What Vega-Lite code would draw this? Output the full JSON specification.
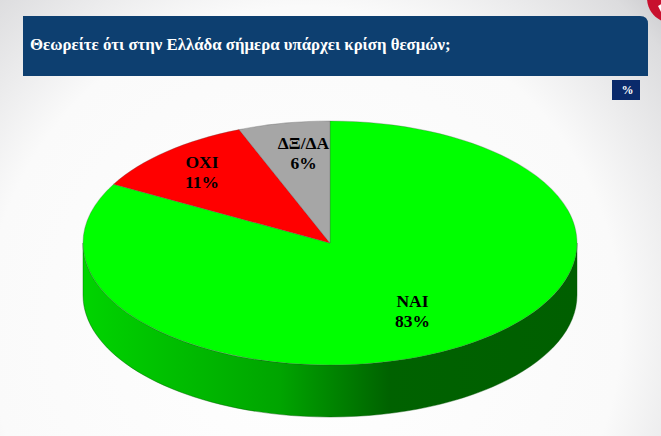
{
  "$schema": "https://vega.github.io/schema/vega-lite/v6.json",
  "width": 661,
  "height": 436,
  "padding": 0,
  "autosize": {"type": "none"},
  "background": "#ffffff",
  "view": {"stroke": null},
  "title": {
    "text": "Θεωρείτε ότι στην Ελλάδα σήμερα υπάρχει κρίση θεσμών;",
    "anchor": "start",
    "frame": "group",
    "dx": 30,
    "offset": -98,
    "zindex": 1,
    "font": "Liberation Serif",
    "fontSize": 16.8,
    "fontWeight": "bold",
    "color": "#ffffff",
    "baseline": "bottom"
  },
  "data": {
    "values": [
      {"answer": "ΝΑΙ", "pct": 83, "label": "ΝΑΙ\n83%"},
      {"answer": "ΟΧΙ", "pct": 11, "label": "ΟΧΙ\n11%"},
      {"answer": "ΔΞ/ΔΑ", "pct": 6, "label": "ΔΞ/ΔΑ\n6%"}
    ]
  },
  "layer": [
    {
      "data": {"values": [{"part": "background"}]},
      "mark": {
        "type": "rect",
        "fill": {
          "gradient": "radial",
          "x1": 0.46, "y1": 0.66, "r1": 0,
          "x2": 0.46, "y2": 0.66, "r2": 0.8,
          "stops": [
            {"offset": 0, "color": "#ffffff"},
            {"offset": 0.6, "color": "#fafafa"},
            {"offset": 0.85, "color": "#dcdcde"},
            {"offset": 1, "color": "#b4b4b8"}
          ]
        }
      },
      "encoding": {}
    },
    {
      "data": {"values": [{"part": "corner"}]},
      "mark": {"type": "point", "filled": true, "opacity": 1, "size": 4, "fill": "#c8102e", "strokeWidth": 0,
        "shape": "M316.5,-220 A25,25 0 1 0 366.5,-220 A25,25 0 1 0 316.5,-220 Z"},
      "encoding": {}
    },
    {
      "data": {"values": [{"part": "corner arrow"}]},
      "mark": {"type": "point", "filled": true, "opacity": 1, "size": 4, "fill": "#ffffff", "strokeWidth": 0,
        "shape": "M327.5,-212 L331,-214 L331,-205 Z"},
      "encoding": {}
    },
    {
      "data": {"values": [{"part": "header"}]},
      "mark": {"type": "point", "filled": true, "opacity": 1, "size": 4, "fill": "#0d3f70", "strokeWidth": 0,
        "shape": "M-307.5,-202 L309.5,-202 Q317.5,-202 317.5,-194 L317.5,-142 L-307.5,-142 Z"},
      "encoding": {}
    },
    {
      "data": {"values": [{"part": "unit"}]},
      "mark": {"type": "point", "filled": true, "opacity": 1, "size": 4, "fill": "#0a2a6b", "strokeWidth": 0,
        "shape": "M281.5,-138 L309.5,-138 L309.5,-118 L281.5,-118 Z"},
      "encoding": {}
    },
    {
      "data": {"values": [{"unit": "%"}]},
      "mark": {"type": "text", "font": "Liberation Serif", "fontSize": 12, "fontWeight": "bold", "color": "#ffffff", "dx": 297, "dy": -128, "baseline": "middle"},
      "encoding": {"text": {"field": "unit"}}
    },
    {
      "transform": [{"filter": "datum.answer === 'ΝΑΙ'"}],
      "mark": {
        "type": "point", "filled": true, "opacity": 1, "size": 4,
        "shape": "M-247.5,25 A247,122 0 0 0 246.5,25 L246.5,77 A247,122 0 0 1 -247.5,77 Z",
        "fill": {
          "gradient": "linear", "x1": 0, "y1": 0, "x2": 1, "y2": 0,
          "stops": [
            {"offset": 0, "color": "#00d400"},
            {"offset": 0.4, "color": "#00a400"},
            {"offset": 0.62, "color": "#006200"},
            {"offset": 1, "color": "#005f00"}
          ]
        },
        "stroke": "#005000",
        "strokeWidth": 0.4
      },
      "encoding": {}
    },
    {
      "mark": {"type": "point", "filled": true, "opacity": 1, "size": 4, "stroke": "#505050", "strokeWidth": 0.3},
      "encoding": {
        "shape": {
          "field": "answer", "type": "nominal", "legend": null,
          "scale": {
            "domain": ["ΝΑΙ", "ΟΧΙ", "ΔΞ/ΔΑ"],
            "range": [
              "M-0.5,25 L-0.5,-97 A247,122 0 1 1 -216.9,-33.8 Z",
              "M-0.5,25 L-91.4,-88.4 A247,122 0 0 0 -216.9,-33.8 Z",
              "M-0.5,25 L-0.5,-97 A247,122 0 0 0 -91.4,-88.4 Z"
            ]
          }
        },
        "fill": {
          "field": "answer", "type": "nominal", "legend": null,
          "scale": {"domain": ["ΝΑΙ", "ΟΧΙ", "ΔΞ/ΔΑ"], "range": ["#00ff00", "#ff0000", "#a6a6a6"]}
        }
      }
    },
    {
      "transform": [{"filter": "datum.answer === 'ΝΑΙ'"}],
      "mark": {"type": "text", "font": "Liberation Serif", "fontSize": 17.5, "fontWeight": "bold", "color": "#000000", "lineBreak": "\n", "lineHeight": 20, "baseline": "middle", "dx": 82, "dy": 83.5},
      "encoding": {"text": {"field": "label"}}
    },
    {
      "transform": [{"filter": "datum.answer === 'ΟΧΙ'"}],
      "mark": {"type": "text", "font": "Liberation Serif", "fontSize": 17.5, "fontWeight": "bold", "color": "#000000", "lineBreak": "\n", "lineHeight": 20, "baseline": "middle", "dx": -128.5, "dy": -55},
      "encoding": {"text": {"field": "label"}}
    },
    {
      "transform": [{"filter": "datum.answer === 'ΔΞ/ΔΑ'"}],
      "mark": {"type": "text", "font": "Liberation Serif", "fontSize": 17.5, "fontWeight": "bold", "color": "#000000", "lineBreak": "\n", "lineHeight": 20, "baseline": "middle", "dx": -27, "dy": -74},
      "encoding": {"text": {"field": "label"}}
    }
  ]
}
